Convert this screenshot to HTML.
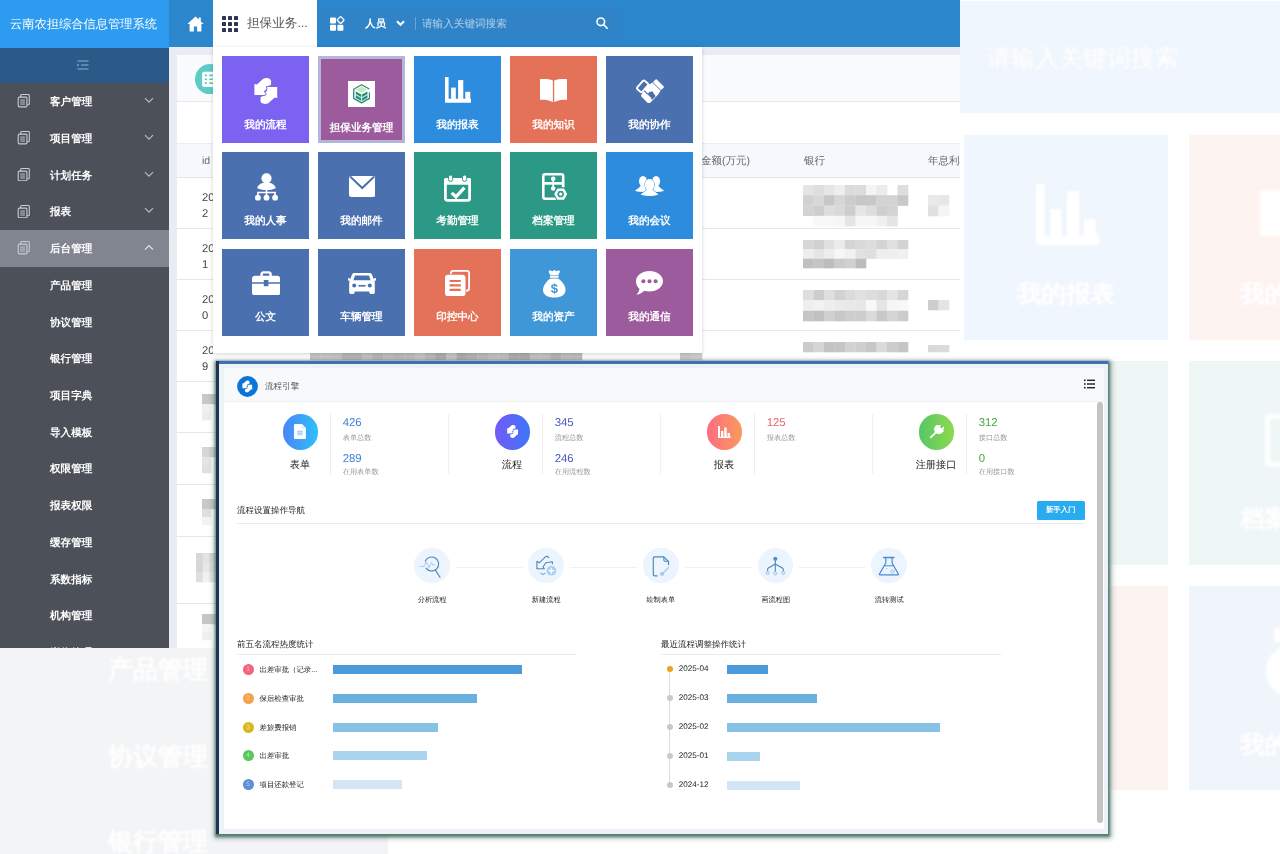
<!DOCTYPE html>
<html lang="zh">
<head>
<meta charset="utf-8">
<title>云南农担综合信息管理系统</title>
<style>
*{box-sizing:border-box;margin:0;padding:0}
html,body{text-rendering:geometricPrecision;width:1280px;height:854px;overflow:hidden;background:#fff;font-family:"Liberation Sans",sans-serif;}
.abs{position:absolute}
/* ---------- blurred background ---------- */
#bg{position:absolute;left:0;top:0;width:1280px;height:854px;overflow:hidden;background:#fff}
#bg .b{position:absolute}
#bg .t{position:absolute;color:#fff;font-weight:bold;white-space:nowrap;filter:blur(1.100px)}
/* ---------- main screenshot ---------- */
#main{will-change:transform;position:absolute;left:0;top:0;width:960px;height:648px;overflow:hidden;background:#eceff4}
#logo{position:absolute;left:0;top:0;width:169px;height:48px;background:#2d9bf0;color:#fff;font-size:12.250px;line-height:49px;padding-left:10px;white-space:nowrap}
#hdr{position:absolute;left:169px;top:0;width:791px;height:47px;background:#2b86cc}
#sub{position:absolute;left:0;top:48px;width:169px;height:35px;background:#2b5a89}
#side{position:absolute;left:0;top:83px;width:169px;height:565px;background:#4c5059}
.mi{position:absolute;left:0;width:169px;height:37px;color:#fff;font-size:10.600px;font-weight:bold;line-height:38.500px;padding-left:50px;white-space:nowrap}
.mi.act{background:#80858f}
.mi svg.ic{position:absolute;left:16.800px;top:11.300px;width:13.700px;height:13.600px}
.mi svg.ch{position:absolute;left:144px;top:14px}
#tab{position:absolute;left:44px;top:0;width:104px;height:48px;background:#fff;color:#555;font-size:12.6px;line-height:47px}
#tab span{position:absolute;left:34px;top:0;white-space:nowrap}
.sb1{position:absolute;left:152px;top:8px;width:32px;height:31px;background:#3083c7;border-radius:3px 0 0 3px}
.sb2{position:absolute;left:185px;top:8px;width:264px;height:31px;background:#3083c7;border-radius:0 3px 3px 0;color:#fff;font-size:10.600px;line-height:32px}
.sb2 .ry{position:absolute;left:11px;top:0;font-weight:bold}
.sb2 i{position:absolute;left:61px;top:9px;width:1px;height:13px;background:rgba(255,255,255,.28)}
.sb2 .ph{position:absolute;left:68px;top:0;color:rgba(255,255,255,.62);white-space:nowrap}
#content{position:absolute;left:169px;top:47px;width:791px;height:601px;background:#e9edf3}
#content .card1{position:absolute;left:8px;top:8px;width:783px;height:47px;background:#fafbfc;border-bottom:1px solid #e6eaf0}
#content .teal{position:absolute;left:25.700px;top:16.700px;width:30.500px;height:30.500px}
#content .card2{position:absolute;left:8px;top:55px;width:783px;height:41px;background:#fff}
#content .thead{position:absolute;left:8px;top:96px;width:783px;height:35px;background:#f5f9fd;border-top:1px solid #e8edf3;border-bottom:1px solid #dfe6ee;color:#666;font-size:10.500px;line-height:35px}
#content .thead span{position:absolute;top:0;white-space:nowrap}
#content .tr{position:absolute;left:8px;width:783px;background:#fff;border-bottom:1px solid #e3e8ee}
#content .idv{position:absolute;left:25px;top:11.500px;font-size:11.200px;line-height:16.800px;color:#444}
#panel{position:absolute;left:213px;top:47px;width:489px;height:306px;background:#fff;box-shadow:0 1px 4px rgba(0,0,0,.18)}
.tile{position:absolute;width:87px;height:87px;color:#fff;font-size:10.6px;font-weight:bold;text-align:center}
.tile span{position:absolute;left:-10px;right:-10px;top:60.800px;line-height:16px;white-space:nowrap}
.tile.sel{border:3px solid #b3b6da}
.tile.sel>*{margin:-3px}
.tile.sel span{top:64px}
#win{will-change:transform;font-weight:500;position:absolute;left:0;top:0;width:1280px;height:854px}
#win .frame{position:absolute;left:216.200px;top:361.200px;width:891.600px;height:472.600px;background:#edf1f8;box-shadow:.5px 1px 2.500px 1.500px rgba(70,110,98,.85),1px 1.500px 5px 3px rgba(70,110,98,.4)}
#win .bt{position:absolute;left:216.200px;top:361.200px;width:891.600px;height:2.800px;background:#416fb5}
#win .bl{position:absolute;left:216.200px;top:361.200px;width:2.600px;height:472.600px;background:#1f3453}
#win .inner{position:absolute;left:224px;top:368px;width:880px;height:461px;background:#fff}
#win .whdr{position:absolute;left:224px;top:368px;width:880px;height:34px;background:#f8f9fb;border-bottom:1px solid #eef0f3}
#win .wt{position:absolute;white-space:nowrap}
#win .circ{position:absolute;width:35.400px;height:35.400px;border-radius:50%}
#win .vd{position:absolute;top:414px;width:1px;height:60px;background:#ececec}
#win .hl{position:absolute;height:1px;background:#e9ebee}
#win .btn{position:absolute;left:1037px;top:501px;width:47.500px;height:18.500px;background:#29abf0;border-radius:1.500px;color:#fff;font-size:7.400px;font-weight:bold;line-height:18.500px;text-align:center}
#win .sc{position:absolute;width:35.600px;height:35.600px;border-radius:50%;background:#ecf5fd}
#win .nb{position:absolute;width:11px;height:11px;border-radius:50%;color:rgba(255,255,255,.55);font-size:6.500px;line-height:11px;text-align:center}
#win .bar{position:absolute;height:9px}
</style>
</head>
<body>
<div id="bg">
  <div class="b" style="left:0;top:640px;width:388px;height:214px;background:#f3f4f6"></div>
  <div class="t" style="left:108px;top:654px;font-size:25px;line-height:32px">产品管理</div>
  <div class="t" style="left:108px;top:741px;font-size:25px;line-height:32px">协议管理</div>
  <div class="t" style="left:108px;top:826px;font-size:25px;line-height:32px">银行管理</div>
  <div class="b" style="left:960px;top:1px;width:320px;height:112px;background:#f0f6fd"></div>
  <div class="t" style="left:987px;top:43px;font-size:24px;line-height:32px;font-weight:normal">请输入关键词搜索</div>
  <div class="b" style="left:964px;top:135px;width:204px;height:205px;background:#f0f6fd"></div>
  <div class="b" style="left:1189px;top:135px;width:100px;height:205px;background:#fdf3f1"></div>
  <div class="b" style="left:964px;top:361px;width:204px;height:204px;background:#eef7f6"></div>
  <div class="b" style="left:1189px;top:361px;width:100px;height:204px;background:#eef7f6"></div>
  <div class="b" style="left:964px;top:586px;width:204px;height:204px;background:#fdf3f1"></div>
  <div class="b" style="left:1189px;top:586px;width:100px;height:204px;background:#f0f5fc"></div>
  <svg class="b" style="left:1036px;top:184px;filter:blur(1.200px)" width="63" height="61" viewBox="0 0 63 61"><path fill="#fff" d="M0 0h8.500v51.500H63V61H0zM14.400 25h11.100v27H14.400zM31 7.300h12.300V52H31zM48 35h11.800v17H48z"/></svg>
  <div class="t" style="left:1017px;top:279px;font-size:24.6px;line-height:32px">我的报表</div>
  <div class="b" style="left:1260px;top:190px;width:30px;height:46px;background:#fff;filter:blur(1.4px)"></div>
  <div class="t" style="left:1240px;top:279px;font-size:24.6px;line-height:32px">我的知识</div>
  <div class="t" style="left:1240px;top:504px;font-size:24.6px;line-height:32px">档案管理</div>
  <div class="t" style="left:1240px;top:730px;font-size:24.6px;line-height:32px">我的资产</div>
  <div class="b" style="left:1265px;top:414px;width:50px;height:53px;border:5px solid #fff;border-radius:5px;filter:blur(1.400px)"></div>
  <div class="b" style="left:1266px;top:644px;width:56px;height:54px;border-radius:50%;background:#fff;filter:blur(1.400px)"></div>
  <div class="b" style="left:1274px;top:628px;width:20px;height:14px;background:#fff;filter:blur(1.400px)"></div>
</div>
<div id="main">
  <div id="logo">云南农担综合信息管理系统</div>
  <div id="hdr">
    <svg style="position:absolute;left:18px;top:16px" width="17" height="16" viewBox="0 0 17 16"><path fill="#fff" d="M8.5 0.6L0.3 8h2.3v7.4h4.3v-5h3.2v5h4.3V8h2.3l-2.9-2.6V1.6h-2.1v1.9z"/></svg>
    <div id="tab"><svg style="position:absolute;left:9px;top:16px" width="16" height="16" viewBox="0 0 16 16" fill="#2d3753"><rect x="0" y="0" width="4" height="4" rx=".6"/><rect x="6" y="0" width="4" height="4" rx=".6"/><rect x="12" y="0" width="4" height="4" rx=".6"/><rect x="0" y="6" width="4" height="4" rx=".6"/><rect x="6" y="6" width="4" height="4" rx=".6"/><rect x="12" y="6" width="4" height="4" rx=".6"/><rect x="0" y="12" width="4" height="4" rx=".6"/><rect x="6" y="12" width="4" height="4" rx=".6"/><rect x="12" y="12" width="4" height="4" rx=".6"/></svg><span>担保业务...</span></div>
    <div class="sb1"><svg style="position:absolute;left:9px;top:8px" width="15" height="15" viewBox="0 0 15 15" fill="#fff"><rect x="0" y="1.4" width="6" height="6" rx="1"/><rect x="0" y="8.8" width="6" height="6" rx="1"/><rect x="7.4" y="8.8" width="6" height="6" rx="1"/><rect x="8" y="1.5" width="5.2" height="5.2" rx="1" transform="rotate(45 10.6 4.1)" fill="none" stroke="#fff" stroke-width="1.3"/></svg></div>
    <div class="sb2">
      <span class="ry">人员</span>
      <svg style="position:absolute;left:42px;top:12px" width="9" height="7" viewBox="0 0 9 7" fill="none" stroke="#fff" stroke-width="2"><path d="M1 1.2l3.5 3.6L8 1.2"/></svg>
      <i></i>
      <span class="ph">请输入关键词搜索</span>
      <svg style="position:absolute;left:242px;top:9px" width="12" height="12" viewBox="0 0 12 12" fill="none" stroke="#fff" stroke-width="1.6"><circle cx="4.8" cy="4.8" r="3.8"/><path d="M7.6 7.6L11.2 11.2" stroke-linecap="round"/></svg>
    </div>
  </div>
  <div id="content">
    <div class="card1"></div>
    <div class="teal"><svg width="30.500" height="30.500" viewBox="0 0 28 28"><circle cx="14" cy="14" r="14" fill="#5ecbc8"/><rect x="6.5" y="7" width="15" height="14" rx="2" fill="#fff"/><path d="M9 10.5h2M13 10.5h6M9 14h2M13 14h6M9 17.5h2M13 17.5h6" stroke="#5ecbc8" stroke-width="1.5"/></svg></div>
    <div class="card2"></div>
    <div class="thead"><span style="left:25px">id</span><span style="left:524px">金额(万元)</span><span style="left:627px">银行</span><span style="left:751px">年息利率</span></div>
    <div class="tr" style="top:131px;height:51px"><span class="idv">20<br>2</span></div>
    <div class="tr" style="top:182px;height:51px"><span class="idv">20<br>1</span></div>
    <div class="tr" style="top:233px;height:51px"><span class="idv">20<br>0</span></div>
    <div class="tr" style="top:284px;height:51px"><span class="idv">20<br>9</span></div>
    <div class="tr" style="top:335px;height:51px"></div>
    <div class="tr" style="top:386px;height:52px"></div>
    <div class="tr" style="top:438px;height:52px"></div>
    <div class="tr" style="top:490px;height:67px"></div>
    <div class="tr" style="top:557px;height:60px"></div>
  </div>
  <div id="sub"><svg style="position:absolute;left:77px;top:12px" width="12" height="10" viewBox="0 0 12 10" fill="none" stroke="#8fb0d2" stroke-width="1.2"><path d="M0.5 1h11M4 5h7.5M0.5 9h11"/><path d="M0.3 3.6l2 1.4-2 1.4z" fill="#8fb0d2" stroke="none"/></svg></div>
  <div id="side">
    <div class="mi" style="top:0.2px"><svg class="ic" width="14" height="15" viewBox="0 0 14 15" fill="none" stroke="#c9ccd2" stroke-width="1.2"><path d="M3.5 3.5V1.6a1 1 0 0 1 1-1H12a1 1 0 0 1 1 1v9.3a1 1 0 0 1-1 1h-1.6"/><rect x="0.8" y="3.4" width="9.6" height="10.8" rx="1.2"/><path d="M3 6.7h5.2M3 8.9h5.2M3 11.1h5.2" stroke-width="1"/></svg>客户管理<svg class="ch" width="10" height="7" viewBox="0 0 10 7" fill="none" stroke="#b9bcc3" stroke-width="1.2"><path d="M1 1.2l4 4 4-4"/></svg></div>
    <div class="mi" style="top:36.9px"><svg class="ic" width="14" height="15" viewBox="0 0 14 15" fill="none" stroke="#c9ccd2" stroke-width="1.2"><path d="M3.5 3.5V1.6a1 1 0 0 1 1-1H12a1 1 0 0 1 1 1v9.3a1 1 0 0 1-1 1h-1.6"/><rect x="0.8" y="3.4" width="9.6" height="10.8" rx="1.2"/><path d="M3 6.7h5.2M3 8.9h5.2M3 11.1h5.2" stroke-width="1"/></svg>项目管理<svg class="ch" width="10" height="7" viewBox="0 0 10 7" fill="none" stroke="#b9bcc3" stroke-width="1.2"><path d="M1 1.2l4 4 4-4"/></svg></div>
    <div class="mi" style="top:73.6px"><svg class="ic" width="14" height="15" viewBox="0 0 14 15" fill="none" stroke="#c9ccd2" stroke-width="1.2"><path d="M3.5 3.5V1.6a1 1 0 0 1 1-1H12a1 1 0 0 1 1 1v9.3a1 1 0 0 1-1 1h-1.6"/><rect x="0.8" y="3.4" width="9.6" height="10.8" rx="1.2"/><path d="M3 6.7h5.2M3 8.9h5.2M3 11.1h5.2" stroke-width="1"/></svg>计划任务<svg class="ch" width="10" height="7" viewBox="0 0 10 7" fill="none" stroke="#b9bcc3" stroke-width="1.2"><path d="M1 1.2l4 4 4-4"/></svg></div>
    <div class="mi" style="top:110.4px"><svg class="ic" width="14" height="15" viewBox="0 0 14 15" fill="none" stroke="#c9ccd2" stroke-width="1.2"><path d="M3.5 3.5V1.6a1 1 0 0 1 1-1H12a1 1 0 0 1 1 1v9.3a1 1 0 0 1-1 1h-1.6"/><rect x="0.8" y="3.4" width="9.6" height="10.8" rx="1.2"/><path d="M3 6.7h5.2M3 8.9h5.2M3 11.1h5.2" stroke-width="1"/></svg>报表<svg class="ch" width="10" height="7" viewBox="0 0 10 7" fill="none" stroke="#b9bcc3" stroke-width="1.2"><path d="M1 1.2l4 4 4-4"/></svg></div>
    <div class="mi act" style="top:147.1px"><svg class="ic" width="14" height="15" viewBox="0 0 14 15" fill="none" stroke="#c9ccd2" stroke-width="1.2"><path d="M3.5 3.5V1.6a1 1 0 0 1 1-1H12a1 1 0 0 1 1 1v9.3a1 1 0 0 1-1 1h-1.6"/><rect x="0.8" y="3.4" width="9.6" height="10.8" rx="1.2"/><path d="M3 6.7h5.2M3 8.9h5.2M3 11.1h5.2" stroke-width="1"/></svg>后台管理<svg class="ch" width="10" height="7" viewBox="0 0 10 7" fill="none" stroke="#e4e6ea" stroke-width="1.2"><path d="M1 5.6l4-4 4 4"/></svg></div>
    <div class="mi" style="top:183.8px">产品管理</div>
    <div class="mi" style="top:220.5px">协议管理</div>
    <div class="mi" style="top:257.2px">银行管理</div>
    <div class="mi" style="top:294.0px">项目字典</div>
    <div class="mi" style="top:330.7px">导入模板</div>
    <div class="mi" style="top:367.4px">权限管理</div>
    <div class="mi" style="top:404.1px">报表权限</div>
    <div class="mi" style="top:440.8px">缓存管理</div>
    <div class="mi" style="top:477.6px">系数指标</div>
    <div class="mi" style="top:514.3px">机构管理</div>
    <div class="mi" style="top:551.0px">岗位管理</div>
  </div>
  <!--MS--><svg id="mos" style="position:absolute;left:0;top:0;filter:blur(.5px)" width="960" height="648" viewBox="0 0 960 648"><rect x="803.0" y="185.0" width="10.8" height="10.6" fill="#e4e4e4"/><rect x="813.5" y="185.0" width="10.8" height="10.6" fill="#dedede"/><rect x="824.0" y="185.0" width="10.8" height="10.6" fill="#e6e6e6"/><rect x="834.5" y="185.0" width="10.8" height="10.6" fill="#eeeeee"/><rect x="845.0" y="185.0" width="10.8" height="10.6" fill="#dbdbdb"/><rect x="855.5" y="185.0" width="10.8" height="10.6" fill="#dcdcdc"/><rect x="866.0" y="185.0" width="10.8" height="10.6" fill="#f4f4f4"/><rect x="876.5" y="185.0" width="10.8" height="10.6" fill="#ebebeb"/><rect x="897.5" y="185.0" width="10.8" height="10.6" fill="#dddddd"/><rect x="803.0" y="195.2" width="10.8" height="10.6" fill="#d1d1d1"/><rect x="813.5" y="195.2" width="10.8" height="10.6" fill="#d8d8d8"/><rect x="824.0" y="195.2" width="10.8" height="10.6" fill="#c7c7c7"/><rect x="834.5" y="195.2" width="10.8" height="10.6" fill="#d6d6d6"/><rect x="845.0" y="195.2" width="10.8" height="10.6" fill="#cccccc"/><rect x="855.5" y="195.2" width="10.8" height="10.6" fill="#c7c7c7"/><rect x="866.0" y="195.2" width="10.8" height="10.6" fill="#c8c8c8"/><rect x="876.5" y="195.2" width="10.8" height="10.6" fill="#d3d3d3"/><rect x="887.0" y="195.2" width="10.8" height="10.6" fill="#d3d3d3"/><rect x="897.5" y="195.2" width="10.8" height="10.6" fill="#c8c8c8"/><rect x="803.0" y="205.5" width="10.8" height="10.6" fill="#d3d3d3"/><rect x="813.5" y="205.5" width="10.8" height="10.6" fill="#cecece"/><rect x="824.0" y="205.5" width="10.8" height="10.6" fill="#dddddd"/><rect x="834.5" y="205.5" width="10.8" height="10.6" fill="#d9d9d9"/><rect x="845.0" y="205.5" width="10.8" height="10.6" fill="#cdcdcd"/><rect x="855.5" y="205.5" width="10.8" height="10.6" fill="#e6e6e6"/><rect x="866.0" y="205.5" width="10.8" height="10.6" fill="#dedede"/><rect x="876.5" y="205.5" width="10.8" height="10.6" fill="#cfcfcf"/><rect x="887.0" y="205.5" width="10.8" height="10.6" fill="#d3d3d3"/><rect x="813.5" y="215.8" width="10.8" height="10.6" fill="#f8f8f8"/><rect x="824.0" y="215.8" width="10.8" height="10.6" fill="#f8f8f8"/><rect x="834.5" y="215.8" width="10.8" height="10.6" fill="#f6f6f6"/><rect x="845.0" y="215.8" width="10.8" height="10.6" fill="#e5e5e5"/><rect x="855.5" y="215.8" width="10.8" height="10.6" fill="#f6f6f6"/><rect x="866.0" y="215.8" width="10.8" height="10.6" fill="#f6f6f6"/><rect x="876.5" y="215.8" width="10.8" height="10.6" fill="#f0f0f0"/><rect x="887.0" y="215.8" width="10.8" height="10.6" fill="#e5e5e5"/><rect x="803.0" y="240.0" width="10.8" height="9.6" fill="#d7d7d7"/><rect x="813.5" y="240.0" width="10.8" height="9.6" fill="#d1d1d1"/><rect x="824.0" y="240.0" width="10.8" height="9.6" fill="#e1e1e1"/><rect x="834.5" y="240.0" width="10.8" height="9.6" fill="#ebebeb"/><rect x="845.0" y="240.0" width="10.8" height="9.6" fill="#d4d4d4"/><rect x="855.5" y="240.0" width="10.8" height="9.6" fill="#d9d9d9"/><rect x="866.0" y="240.0" width="10.8" height="9.6" fill="#dddddd"/><rect x="876.5" y="240.0" width="10.8" height="9.6" fill="#d4d4d4"/><rect x="887.0" y="240.0" width="10.8" height="9.6" fill="#e1e1e1"/><rect x="897.5" y="240.0" width="10.8" height="9.6" fill="#d3d3d3"/><rect x="803.0" y="249.3" width="10.8" height="9.6" fill="#eeeeee"/><rect x="813.5" y="249.3" width="10.8" height="9.6" fill="#e5e5e5"/><rect x="824.0" y="249.3" width="10.8" height="9.6" fill="#ededed"/><rect x="834.5" y="249.3" width="10.8" height="9.6" fill="#f6f6f6"/><rect x="845.0" y="249.3" width="10.8" height="9.6" fill="#f1f1f1"/><rect x="855.5" y="249.3" width="10.8" height="9.6" fill="#e1e1e1"/><rect x="866.0" y="249.3" width="10.8" height="9.6" fill="#dfdfdf"/><rect x="876.5" y="249.3" width="10.8" height="9.6" fill="#eeeeee"/><rect x="887.0" y="249.3" width="10.8" height="9.6" fill="#eeeeee"/><rect x="897.5" y="249.3" width="10.8" height="9.6" fill="#f0f0f0"/><rect x="803.0" y="258.7" width="10.8" height="9.6" fill="#c0c0c0"/><rect x="813.5" y="258.7" width="10.8" height="9.6" fill="#c5c5c5"/><rect x="824.0" y="258.7" width="10.8" height="9.6" fill="#bdbdbd"/><rect x="834.5" y="258.7" width="10.8" height="9.6" fill="#cbcbcb"/><rect x="845.0" y="258.7" width="10.8" height="9.6" fill="#d0d0d0"/><rect x="855.5" y="258.7" width="10.8" height="9.6" fill="#bcbcbc"/><rect x="803.0" y="290.0" width="10.8" height="10.6" fill="#dedede"/><rect x="813.5" y="290.0" width="10.8" height="10.6" fill="#cdcdcd"/><rect x="824.0" y="290.0" width="10.8" height="10.6" fill="#dfdfdf"/><rect x="834.5" y="290.0" width="10.8" height="10.6" fill="#d2d2d2"/><rect x="845.0" y="290.0" width="10.8" height="10.6" fill="#dbdbdb"/><rect x="855.5" y="290.0" width="10.8" height="10.6" fill="#e1e1e1"/><rect x="866.0" y="290.0" width="10.8" height="10.6" fill="#dddddd"/><rect x="876.5" y="290.0" width="10.8" height="10.6" fill="#d9d9d9"/><rect x="887.0" y="290.0" width="10.8" height="10.6" fill="#e4e4e4"/><rect x="897.5" y="290.0" width="10.8" height="10.6" fill="#d6d6d6"/><rect x="803.0" y="300.3" width="10.8" height="10.6" fill="#eeeeee"/><rect x="813.5" y="300.3" width="10.8" height="10.6" fill="#f2f2f2"/><rect x="824.0" y="300.3" width="10.8" height="10.6" fill="#eeeeee"/><rect x="834.5" y="300.3" width="10.8" height="10.6" fill="#ebebeb"/><rect x="845.0" y="300.3" width="10.8" height="10.6" fill="#e9e9e9"/><rect x="855.5" y="300.3" width="10.8" height="10.6" fill="#e7e7e7"/><rect x="866.0" y="300.3" width="10.8" height="10.6" fill="#f9f9f9"/><rect x="876.5" y="300.3" width="10.8" height="10.6" fill="#e5e5e5"/><rect x="887.0" y="300.3" width="10.8" height="10.6" fill="#f6f6f6"/><rect x="897.5" y="300.3" width="10.8" height="10.6" fill="#f8f8f8"/><rect x="803.0" y="310.7" width="10.8" height="10.6" fill="#c5c5c5"/><rect x="813.5" y="310.7" width="10.8" height="10.6" fill="#c0c0c0"/><rect x="824.0" y="310.7" width="10.8" height="10.6" fill="#d0d0d0"/><rect x="834.5" y="310.7" width="10.8" height="10.6" fill="#c7c7c7"/><rect x="845.0" y="310.7" width="10.8" height="10.6" fill="#cecece"/><rect x="855.5" y="310.7" width="10.8" height="10.6" fill="#cdcdcd"/><rect x="866.0" y="310.7" width="10.8" height="10.6" fill="#dadada"/><rect x="876.5" y="310.7" width="10.8" height="10.6" fill="#c8c8c8"/><rect x="887.0" y="310.7" width="10.8" height="10.6" fill="#d5d5d5"/><rect x="897.5" y="310.7" width="10.8" height="10.6" fill="#cccccc"/><rect x="803.0" y="342.0" width="10.8" height="10.3" fill="#cbcbcb"/><rect x="813.5" y="342.0" width="10.8" height="10.3" fill="#d5d5d5"/><rect x="824.0" y="342.0" width="10.8" height="10.3" fill="#c4c4c4"/><rect x="834.5" y="342.0" width="10.8" height="10.3" fill="#c5c5c5"/><rect x="845.0" y="342.0" width="10.8" height="10.3" fill="#d2d2d2"/><rect x="855.5" y="342.0" width="10.8" height="10.3" fill="#cfcfcf"/><rect x="866.0" y="342.0" width="10.8" height="10.3" fill="#c7c7c7"/><rect x="876.5" y="342.0" width="10.8" height="10.3" fill="#dadada"/><rect x="887.0" y="342.0" width="10.8" height="10.3" fill="#cccccc"/><rect x="897.5" y="342.0" width="10.8" height="10.3" fill="#c6c6c6"/><rect x="928.0" y="195.0" width="10.8" height="10.8" fill="#e9e9e9"/><rect x="938.5" y="195.0" width="10.8" height="10.8" fill="#e7e7e7"/><rect x="928.0" y="205.5" width="10.8" height="10.8" fill="#e1e1e1"/><rect x="938.5" y="205.5" width="10.8" height="10.8" fill="#f5f5f5"/><rect x="928.0" y="300.0" width="10.8" height="10.3" fill="#cecece"/><rect x="938.5" y="300.0" width="10.8" height="10.3" fill="#e4e4e4"/><rect x="928.0" y="345.0" width="10.8" height="7.3" fill="#d9d9d9"/><rect x="938.5" y="345.0" width="10.8" height="7.3" fill="#dadada"/><rect x="310.0" y="352.0" width="10.8" height="8.3" fill="#c5c5c5"/><rect x="320.5" y="352.0" width="10.8" height="8.3" fill="#c8c8c8"/><rect x="330.9" y="352.0" width="10.8" height="8.3" fill="#c6c6c6"/><rect x="341.4" y="352.0" width="10.8" height="8.3" fill="#b6b6b6"/><rect x="351.8" y="352.0" width="10.8" height="8.3" fill="#b6b6b6"/><rect x="362.3" y="352.0" width="10.8" height="8.3" fill="#c2c2c2"/><rect x="372.8" y="352.0" width="10.8" height="8.3" fill="#b7b7b7"/><rect x="383.2" y="352.0" width="10.8" height="8.3" fill="#bfbfbf"/><rect x="393.7" y="352.0" width="10.8" height="8.3" fill="#bbbbbb"/><rect x="404.2" y="352.0" width="10.8" height="8.3" fill="#bebebe"/><rect x="414.6" y="352.0" width="10.8" height="8.3" fill="#c5c5c5"/><rect x="425.1" y="352.0" width="10.8" height="8.3" fill="#bababa"/><rect x="435.5" y="352.0" width="10.8" height="8.3" fill="#aeaeae"/><rect x="446.0" y="352.0" width="10.8" height="8.3" fill="#c6c6c6"/><rect x="456.5" y="352.0" width="10.8" height="8.3" fill="#aeaeae"/><rect x="466.9" y="352.0" width="10.8" height="8.3" fill="#b4b4b4"/><rect x="477.4" y="352.0" width="10.8" height="8.3" fill="#bbbbbb"/><rect x="487.8" y="352.0" width="10.8" height="8.3" fill="#c2c2c2"/><rect x="498.3" y="352.0" width="10.8" height="8.3" fill="#c1c1c1"/><rect x="508.8" y="352.0" width="10.8" height="8.3" fill="#aeaeae"/><rect x="519.2" y="352.0" width="10.8" height="8.3" fill="#adadad"/><rect x="529.7" y="352.0" width="10.8" height="8.3" fill="#c3c3c3"/><rect x="540.2" y="352.0" width="10.8" height="8.3" fill="#c2c2c2"/><rect x="550.6" y="352.0" width="10.8" height="8.3" fill="#b5b5b5"/><rect x="561.1" y="352.0" width="10.8" height="8.3" fill="#c0c0c0"/><rect x="571.5" y="352.0" width="10.8" height="8.3" fill="#bebebe"/><rect x="680.0" y="352.0" width="11.3" height="8.3" fill="#cbcbcb"/><rect x="691.0" y="352.0" width="11.3" height="8.3" fill="#d0d0d0"/><rect x="202.0" y="394.0" width="7.3" height="10.3" fill="#c8c8c8"/><rect x="209.0" y="394.0" width="7.3" height="10.3" fill="#c3c3c3"/><rect x="202.0" y="404.0" width="9.3" height="8.3" fill="#f0f0f0"/><rect x="202.0" y="412.0" width="9.3" height="8.3" fill="#ececec"/><rect x="202.0" y="447.0" width="7.3" height="10.3" fill="#d6d6d6"/><rect x="209.0" y="447.0" width="7.3" height="10.3" fill="#cfcfcf"/><rect x="202.0" y="457.0" width="9.3" height="8.3" fill="#e5e5e5"/><rect x="202.0" y="465.0" width="9.3" height="8.3" fill="#e0e0e0"/><rect x="202.0" y="499.0" width="7.3" height="10.3" fill="#c8c8c8"/><rect x="209.0" y="499.0" width="7.3" height="10.3" fill="#c5c5c5"/><rect x="202.0" y="509.0" width="9.3" height="8.3" fill="#dfdfdf"/><rect x="202.0" y="517.0" width="9.3" height="8.3" fill="#f3f3f3"/><rect x="196.0" y="553.0" width="7.0" height="10.0" fill="#d7d7d7"/><rect x="202.7" y="553.0" width="7.0" height="10.0" fill="#e3e3e3"/><rect x="209.3" y="553.0" width="7.0" height="10.0" fill="#d5d5d5"/><rect x="196.0" y="562.7" width="7.0" height="10.0" fill="#d6d6d6"/><rect x="202.7" y="562.7" width="7.0" height="10.0" fill="#e8e8e8"/><rect x="209.3" y="562.7" width="7.0" height="10.0" fill="#d9d9d9"/><rect x="196.0" y="572.3" width="7.0" height="10.0" fill="#dedede"/><rect x="202.7" y="572.3" width="7.0" height="10.0" fill="#f1f1f1"/><rect x="209.3" y="572.3" width="7.0" height="10.0" fill="#e1e1e1"/><rect x="202.0" y="614.0" width="7.3" height="10.3" fill="#c6c6c6"/><rect x="209.0" y="614.0" width="7.3" height="10.3" fill="#c6c6c6"/><rect x="202.0" y="624.0" width="9.3" height="8.3" fill="#f5f5f5"/><rect x="202.0" y="632.0" width="9.3" height="8.3" fill="#efefef"/></svg><!--ME-->
  <!--PS--><div id="panel">
    <div class="tile" style="left:9px;top:9.200000000000003px;background:#7b62f0"><svg style="position:absolute;left:31.5px;top:21.7px" width="24" height="26" viewBox="0 0 24 26" fill="#fff"><path id="fl" d="M12.600 0C15.600 0 17.500 1.800 17.100 4.200L16.900 7.400 12.200 8.800 13.100 11 10.300 13.400 12.100 15.600 11.300 16.900H0.400V5.900L2.900 6.600 9 .9C10 .2 11.200 0 12.600 0z"/><use href="#fl" transform="rotate(180 11.800 13)"/><path d="M17.300 7.600l-5 1.300.9 2.100-2.900 2.500 1.800 2.100-.7 1.400-5 1.400" fill="none" stroke="#7b62f0" stroke-width="1"/></svg><span>我的流程</span></div>
    <div class="tile sel" style="left:105px;top:9.200000000000003px;background:#9c5b9c"><div style="position:absolute;left:30.200px;top:24.500px;width:27px;height:26.500px;background:#fff"></div><svg style="position:absolute;left:34.6px;top:27.8px" width="17.4" height="19.6" viewBox="0 0 17.4 19.6" fill="#fff"><path d="M8.600 2.400l5.600 3.300-5.600 3.300L3 5.700z" fill="#c8e9b8"/><path d="M2.600 7.600l6 3.400 6-3.400v7.200l-6 3.400-6-3.400z" fill="#b9efe8"/><path d="M2.800 7.400l5.800 3.300 5.800-3.300v2.500l-5.800 3.300-5.800-3.300zM2.800 11.300l5.800 3.300 5.800-3.300v2.500l-5.800 3.300-5.800-3.300z" fill="#2b8c78"/><path d="M8.600 10.600v8" stroke="#e8fffb" stroke-width=".8"/><path d="M15.800 4.800L8.600.7.700 5.200v9.200l7.900 4.500 7.900-4.500V9" fill="none" stroke="#2b8c78" stroke-width="1.300" stroke-linejoin="round" stroke-linecap="round"/></svg><span>担保业务管理</span></div>
    <div class="tile" style="left:201px;top:9.200000000000003px;background:#2d8cdd"><svg style="position:absolute;left:30.7px;top:21px" width="26.7" height="25.8" viewBox="0 0 26.7 25.8" fill="#fff"><path d="M0 0h3.600v21.800h23.100v4H0z"/><rect x="6.100" y="10.600" width="4.700" height="11.400"/><rect x="13.100" y="3.100" width="5.200" height="18.900"/><rect x="20.300" y="14.800" width="5" height="7.200"/></svg><span>我的报表</span></div>
    <div class="tile" style="left:297px;top:9.200000000000003px;background:#e47258"><svg style="position:absolute;left:30px;top:22.9px" width="27.1" height="23.2" viewBox="0 0 27.1 23.2" fill="#fff"><path d="M0 .3C4-.4 9-.2 12.900 1.400v21.800C9 21 4 20.600 0 20.900z"/><path d="M27.100 .3c-4-.7-9-.5-12.900 1.100v21.800c3.900-2.200 8.900-2.600 12.900-2.300z"/></svg><span>我的知识</span></div>
    <div class="tile" style="left:393px;top:9.200000000000003px;background:#4b70b0"><svg style="position:absolute;left:30px;top:22.9px" width="28.2" height="24" viewBox="0 0 28.2 24" fill="#fff"><rect x="-3.350" y="-5.550" width="6.700" height="11.100" rx="1.500" transform="translate(6.600 7.300) rotate(41)" fill="none" stroke="#fff" stroke-width="1.900"/><rect x="-5.700" y="-2.300" width="11.400" height="4.600" rx=".9" transform="translate(22.600 5.600) rotate(45)"/><path d="M16.400 3.600l8.200 8.200-2.400 3.600-7.400 7.800c-1.200 1.100-2.600 1.100-3.600.2L5.400 17.600c-.6-.8-.4-1.800.6-2.800l2.600-3.800 4.600-5.600z"/><path d="M12.900 13.300l3.500-1.100 3.300 5.100-3.800 3.800-.9-2.400-3.300-3.200z" fill="#4b70b0"/><path d="M8 11.600l3.800 3.400" stroke="#4b70b0" stroke-width="1.100"/></svg><span>我的协作</span></div>
    <div class="tile" style="left:9px;top:105.30000000000001px;background:#4b70b0"><svg style="position:absolute;left:32.5px;top:20.3px" width="23" height="28" viewBox="0 0 23 28" fill="#fff"><circle cx="11.500" cy="5.300" r="5.100"/><path d="M2.200 15.300C3.200 11.300 7 9.600 11.500 9.600s8.300 1.700 9.300 5.700c-3 1.300-6 1.800-9.300 1.800s-6.300-.5-9.300-1.800z"/><path d="M11.500 16v7M2.900 23.500v-4h17.200v4" fill="none" stroke="#fff" stroke-width="1.600"/><circle cx="2.900" cy="24.700" r="2.900"/><circle cx="11.500" cy="24.700" r="2.900"/><circle cx="20.100" cy="24.700" r="2.900"/></svg><span>我的人事</span></div>
    <div class="tile" style="left:105px;top:105.30000000000001px;background:#4b70b0"><svg style="position:absolute;left:30.8px;top:24px" width="26.4" height="21" viewBox="0 0 26.4 21" fill="#fff"><rect x="0" y="0" width="26.400" height="21" rx="2.200"/><path d="M1.200 .6l12 11.400L25.200 .6" fill="none" stroke="#4b70b0" stroke-width="2"/></svg><span>我的邮件</span></div>
    <div class="tile" style="left:201px;top:105.30000000000001px;background:#2c9986"><svg style="position:absolute;left:30.2px;top:22.8px" width="27" height="26.7" viewBox="0 0 27 26.7" fill="#fff"><rect x="1.400" y="4.300" width="24.200" height="21" rx="1.800" fill="none" stroke="#fff" stroke-width="2.800"/><path d="M0 4.700c0-1.100.700-1.800 1.800-1.800h23.400c1.100 0 1.800.700 1.800 1.800v5H0z"/><rect x="4.500" y="0" width="4.200" height="6.400" rx="2.100" stroke="#2c9986" stroke-width="1"/><rect x="18.500" y="0" width="4.200" height="6.400" rx="2.100" stroke="#2c9986" stroke-width="1"/><path d="M7.700 17.900l4.300 4 8.400-9.200" fill="none" stroke="#fff" stroke-width="3.300"/></svg><span>考勤管理</span></div>
    <div class="tile" style="left:297px;top:105.30000000000001px;background:#2c9986"><svg style="position:absolute;left:32.1px;top:20.7px" width="25.6" height="27.6" viewBox="0 0 25.6 27.6" fill="#fff"><rect x="1.300" y="1.300" width="19.900" height="24.400" rx="2" fill="none" stroke="#fff" stroke-width="2.600"/><path d="M1.300 10.400h19.900" stroke="#fff" stroke-width="2.600"/><path d="M11.200 5.600v10" stroke="#fff" stroke-width="1.700"/><circle cx="11.200" cy="5.700" r="2.300"/><circle cx="11.200" cy="15.500" r="2.300"/><polygon points="26.50,21.10 22.60,27.85 14.80,27.85 10.90,21.10 14.80,14.35 22.60,14.35" fill="#2c9986"/><polygon points="23.80,21.10 21.25,25.52 16.15,25.52 13.60,21.10 16.15,16.68 21.25,16.68" fill="none" stroke="#fff" stroke-width="2.500" stroke-linejoin="round"/><circle cx="18.700" cy="21.100" r="1.700"/></svg><span>档案管理</span></div>
    <div class="tile" style="left:393px;top:105.30000000000001px;background:#2d8cdd"><svg style="position:absolute;left:29px;top:23.5px" width="29.2" height="21" viewBox="0 0 29.2 21" fill="#fff"><g fill="#fff"><path d="M0.00 15.00 C0.00 13.90 4.40 12.40 6.00 8.90 L10.00 8.90 C11.60 12.40 16.00 13.90 16.00 15.00 Q8.00 17.20 0.00 15.00 Z"/><ellipse cx="8.00" cy="5.20" rx="4.00" ry="5.20"/><path d="M13.10 15.00 C13.10 13.90 17.50 12.40 19.10 8.90 L23.10 8.90 C24.70 12.40 29.10 13.90 29.10 15.00 Q21.10 17.20 13.10 15.00 Z"/><ellipse cx="21.10" cy="5.20" rx="4.00" ry="5.20"/></g><g fill="#fff" stroke="#2d8cdd" stroke-width="1.100" paint-order="stroke"><path d="M6.00 18.80 C6.00 17.50 10.73 16.00 12.35 12.50 L16.85 12.50 C18.47 16.00 23.20 17.50 23.20 18.80 Q14.60 21.00 6.00 18.80 Z"/><ellipse cx="14.60" cy="8.80" rx="4.50" ry="5.70"/></g><g fill="#fff"><path d="M6.00 18.80 C6.00 17.50 10.73 16.00 12.35 12.50 L16.85 12.50 C18.47 16.00 23.20 17.50 23.20 18.80 Q14.60 21.00 6.00 18.80 Z"/><ellipse cx="14.60" cy="8.80" rx="4.50" ry="5.70"/></g></svg><span>我的会议</span></div>
    <div class="tile" style="left:9px;top:201.7px;background:#4b70b0"><svg style="position:absolute;left:29.6px;top:22px" width="28.2" height="24.6" viewBox="0 0 28.2 24.6" fill="#fff"><path d="M8.400 5.600V3.200C8.400 1.400 9.600.3 11.400.3h5.400c1.800 0 3 1.100 3 2.900v2.400h-2.400V3.400c0-.5-.3-.8-.8-.8h-5c-.5 0-.8.300-.8.800v2.200z"/><path d="M3 4.800h22.200c1.800 0 3 1.200 3 3v3.400H16.400V9h-4.600v2.200H0V7.800c0-1.800 1.200-3 3-3z"/><path d="M0 12.800h11.800v2.400h4.600v-2.400h11.800v8.800c0 1.800-1.200 3-3 3H3c-1.800 0-3-1.200-3-3z"/></svg><span>公文</span></div>
    <div class="tile" style="left:105px;top:201.7px;background:#4b70b0"><svg style="position:absolute;left:29.8px;top:24px" width="28" height="21" viewBox="0 0 28 21" fill="#fff"><path d="M6.200 0h15.600c1 0 1.800.6 2.200 1.600L25.600 6l1.400-.9c.6-.3 1 .1 1 .7v.9c0 .6-.4 1-1 1h-.7l.5 1.700V19.600c0 .8-.6 1.400-1.400 1.400h-2.600c-.8 0-1.400-.6-1.400-1.400v-1.200H6.600v1.200c0 .8-.6 1.400-1.400 1.400H2.600c-.8 0-1.400-.6-1.400-1.400V9.400l.5-1.700H1c-.6 0-1-.4-1-1v-.9c0-.6.400-1 1-.7l1.400.9L4 1.600C4.400.6 5.200 0 6.200 0z"/><path d="M5.400 7.200L7 2.600h14l1.600 4.600z" fill="#4b70b0"/><circle cx="6.200" cy="12.600" r="2" fill="#4b70b0"/><circle cx="21.800" cy="12.600" r="2" fill="#4b70b0"/><rect x="10.400" y="12" width="7.200" height="1.600" fill="#4b70b0"/></svg><span>车辆管理</span></div>
    <div class="tile" style="left:201px;top:201.7px;background:#e47258"><svg style="position:absolute;left:31px;top:21px" width="25" height="26.3" viewBox="0 0 25 26.3" fill="#fff"><path d="M5 4V3C5 1.200 6.200 0 8 0h14c1.800 0 3 1.200 3 3v15.500c0 1.800-1.200 3-3 3h-1v-1.800h.8c.8 0 1.400-.6 1.400-1.400V3.200c0-.8-.6-1.400-1.400-1.400H8.200c-.8 0-1.400.6-1.400 1.400V4z"/><path d="M3 4.700h14.500c1.800 0 3 1.200 3 3v15.600c0 1.800-1.200 3-3 3H3c-1.800 0-3-1.200-3-3V7.700c0-1.800 1.200-3 3-3z"/><path d="M4.600 11h11.200M4.600 15.400h11.200M4.600 19.800h11.200" stroke="#e47258" stroke-width="2.200"/></svg><span>印控中心</span></div>
    <div class="tile" style="left:297px;top:201.7px;background:#3f97d7"><svg style="position:absolute;left:33px;top:21.5px" width="22.5" height="27.5" viewBox="0 0 22.5 27.5" fill="#fff"><path d="M6 .8c1.200-.9 2.400.4 3.300.4C10.200 1.200 10.600 0 11.300 0s1.100 1.200 2 1.200S15.400-.1 16.600.8c.9.700-.8 3-1.500 4.500h-7.600C6.800 3.800 5.100 1.500 6 .8z"/><rect x="6.800" y="5.800" width="9" height="2" rx="1"/><path d="M7.600 8.400h7.400c4.200 2.800 7.500 7 7.500 11.600 0 5-4.600 7.500-11.200 7.500S0 25 0 20C0 15.400 3.400 11.200 7.600 8.400z"/><text x="11.300" y="23" font-family="Liberation Sans,sans-serif" font-size="13" text-anchor="middle" fill="#3f97d7">$</text></svg><span>我的资产</span></div>
    <div class="tile" style="left:393px;top:201.7px;background:#9c5b9c"><svg style="position:absolute;left:30px;top:22px" width="27" height="24" viewBox="0 0 27 24" fill="#fff"><path d="M13.500 0C21 0 27 4.500 27 10.200S21 20.400 13.500 20.400c-1.800 0-3.500-.3-5.100-.7C6.400 21.600 3.800 23.200.6 23.800c1.500-1.800 2.600-3.800 2.800-6C1.300 15.900 0 13.200 0 10.200 0 4.500 6 0 13.500 0z"/><circle cx="7.400" cy="10.200" r="2" fill="#9c5b9c"/><circle cx="13.500" cy="10.200" r="2" fill="#9c5b9c"/><circle cx="19.600" cy="10.200" r="2" fill="#9c5b9c"/></svg><span>我的通信</span></div>
  </div><!--PE-->
</div>
<!--WS--><div id="win">
  <div class="frame"></div><div class="bt"></div><div class="bl"></div>
  <div class="inner"></div>
  <div class="whdr"></div>
  <svg style="position:absolute;left:237px;top:375.800px" width="21" height="21" viewBox="0 0 21 21"><circle cx="10.500" cy="10.500" r="10.400" fill="#0b75d6"/><g transform="translate(5.200 4.500) scale(.430 .455)" fill="#fff"><path id="fl3" d="M12.600 0C15.600 0 17.500 1.800 17.100 4.200L16.900 7.400 12.200 8.800 13.100 11 10.300 13.400 12.100 15.600 11.300 16.900H0.400V5.900L2.900 6.600 9 .9C10 .2 11.200 0 12.600 0z"/><use href="#fl3" transform="rotate(180 11.800 13)"/><path d="M17.300 7.600l-5 1.300.9 2.100-2.900 2.500 1.800 2.100-.7 1.400-5 1.400" fill="none" stroke="#0b75d6" stroke-width="1.400"/></g></svg>
  <div class="wt" style="left:265px;top:379px;font-size:8.600px;line-height:14px;color:#555">流程引擎</div>
  <svg style="position:absolute;left:1084px;top:379px" width="11" height="10" viewBox="0 0 11 10" fill="#222"><rect x="0" y="0.500" width="1.600" height="1.600"/><rect x="3" y="0.600" width="8" height="1.400"/><rect x="0" y="4.200" width="1.600" height="1.600"/><rect x="3" y="4.300" width="8" height="1.400"/><rect x="0" y="7.900" width="1.600" height="1.600"/><rect x="3" y="8" width="8" height="1.400"/></svg>
  <div style="position:absolute;left:1097px;top:402px;width:5.500px;height:421px;border-radius:3px;background:#c3c3c3"></div>
  <div class="circ" style="left:282.7px;top:414.200px;background:linear-gradient(90deg,#4b84f7,#2fc0fa)"><svg style="position:absolute;left:11.75px;top:10.1px" width="11.9" height="15.2" viewBox="0 0 11.9 15.2"><path fill="#fff" d="M1.400 0h6.600l3.900 3.900v10c0 .8-.6 1.300-1.400 1.300H1.400C.6 15.200 0 14.700 0 13.900V1.400C0 .6.600 0 1.400 0z"/><path fill="#58a8f8" d="M8.200 2.600l1.400 1.400H9c-.5 0-.8-.3-.8-.8z"/><rect x="3.300" y="6.300" width="5.300" height="5.200" fill="#cfe6fd"/><path d="M3.300 7.700h5.300M3.300 9.800h5.300" stroke="#8cc4fa" stroke-width=".8"/></svg></div>
  <div class="wt" style="left:250px;top:458.700px;width:100px;text-align:center;font-size:10.200px;line-height:14px;color:#222">表单</div>
  <div class="vd" style="left:329.5px"></div>
  <div class="wt" style="left:342.7px;top:416.4px;font-size:11.400px;line-height:14px;color:#3c83d8">426</div>
  <div class="wt" style="left:342.7px;top:432.5px;font-size:7.200px;line-height:10px;color:#999">表单总数</div>
  <div class="wt" style="left:342.7px;top:451.7px;font-size:11.400px;line-height:14px;color:#3c83d8">289</div>
  <div class="wt" style="left:342.7px;top:467px;font-size:7.200px;line-height:10px;color:#999">在用表单数</div>
  <div class="circ" style="left:494.7px;top:414.200px;background:linear-gradient(90deg,#735af5,#3e76fa)"><svg style="position:absolute;left:11.85px;top:10.85px" width="11.7" height="12.9" viewBox="0 0 11.7 12.9"><g transform="scale(.496)" fill="#fff"><path id="fl2" d="M12.600 0C15.600 0 17.500 1.800 17.100 4.200L16.900 7.400 12.200 8.800 13.100 11 10.300 13.400 12.100 15.600 11.300 16.900H0.400V5.900L2.900 6.600 9 .9C10 .2 11.200 0 12.600 0z"/><use href="#fl2" transform="rotate(180 11.800 13)"/><path d="M17.300 7.600l-5 1.300.9 2.100-2.900 2.500 1.800 2.100-.7 1.400-5 1.400" fill="none" stroke="#5868f7" stroke-width="1.300"/></g></svg></div>
  <div class="wt" style="left:462px;top:458.700px;width:100px;text-align:center;font-size:10.200px;line-height:14px;color:#222">流程</div>
  <div class="vd" style="left:541.5px"></div>
  <div class="vd" style="left:448px;background:#f0f1f3"></div>
  <div class="wt" style="left:554.7px;top:416.4px;font-size:11.400px;line-height:14px;color:#4c57c8">345</div>
  <div class="wt" style="left:554.7px;top:432.5px;font-size:7.200px;line-height:10px;color:#999">流程总数</div>
  <div class="wt" style="left:554.7px;top:451.7px;font-size:11.400px;line-height:14px;color:#4c57c8">246</div>
  <div class="wt" style="left:554.7px;top:467px;font-size:7.200px;line-height:10px;color:#999">在用流程数</div>
  <div class="circ" style="left:706.7px;top:414.200px;background:linear-gradient(90deg,#ff6c82,#f89a5c)"><svg style="position:absolute;left:11.35px;top:11.399999999999999px" width="12.7" height="12.6" viewBox="0 0 12.7 12.6"><path fill="#fff" d="M0 0h2v10.700h10.700v1.900H0z"/><rect x="3" y="5" width="2.300" height="6" fill="#fff"/><rect x="6.200" y="1.500" width="2.500" height="9.500" fill="#fff"/><rect x="9.600" y="7" width="2.400" height="4" fill="#fff"/></svg></div>
  <div class="wt" style="left:674px;top:458.700px;width:100px;text-align:center;font-size:10.200px;line-height:14px;color:#222">报表</div>
  <div class="vd" style="left:753.5px"></div>
  <div class="vd" style="left:660px;background:#f0f1f3"></div>
  <div class="wt" style="left:766.7px;top:416.4px;font-size:11.400px;line-height:14px;color:#e0686c">125</div>
  <div class="wt" style="left:766.7px;top:432.5px;font-size:7.200px;line-height:10px;color:#999">报表总数</div>
  <div class="circ" style="left:918.7px;top:414.200px;background:linear-gradient(90deg,#58c568,#8cda4c)"><svg style="position:absolute;left:10.45px;top:10.7px" width="14.5" height="14" viewBox="0 0 14.5 14"><g transform="rotate(45 7.250 7) translate(.75 -1.500)" fill="#fff"><rect x="3.400" y="-1.400" width="1.700" height="4" rx=".8"/><rect x="7.900" y="-1.400" width="1.700" height="4" rx=".8"/><path d="M1.800 2.200h9.400v2.600c0 2.400-1.600 4.100-3.500 4.500h-2.400C3.400 8.900 1.800 7.200 1.800 4.800z"/><rect x="5.600" y="8.600" width="1.800" height="8.400" rx=".8"/></g></svg></div>
  <div class="wt" style="left:886px;top:458.700px;width:100px;text-align:center;font-size:10.200px;line-height:14px;color:#222">注册接口</div>
  <div class="vd" style="left:965.5px"></div>
  <div class="vd" style="left:872px;background:#f0f1f3"></div>
  <div class="wt" style="left:978.7px;top:416.4px;font-size:11.400px;line-height:14px;color:#45a845">312</div>
  <div class="wt" style="left:978.7px;top:432.5px;font-size:7.200px;line-height:10px;color:#999">接口总数</div>
  <div class="wt" style="left:978.7px;top:451.7px;font-size:11.400px;line-height:14px;color:#45a845">0</div>
  <div class="wt" style="left:978.7px;top:467px;font-size:7.200px;line-height:10px;color:#999">在用接口数</div>
  <div class="wt" style="left:237px;top:502.500px;font-size:8.500px;line-height:14px;color:#222">流程设置操作导航</div>
  <div class="btn">新手入门</div>
  <div class="hl" style="left:237px;top:523px;width:848px"></div>
  <div class="sc" style="left:414.3px;top:547.500px"><svg style="position:absolute;left:0;top:0" width="35.600" height="35.600" viewBox="0 0 35.600 35.600"><g fill="none" stroke="#4e86ba" stroke-width="1.150" stroke-linecap="round"><path d="M11.300 13.100A7 7 0 1 1 12 20.200"/><path d="M21.300 21.900l4.700 7.400"/><path d="M6 18.400h4l2.200-4.800 2.900 6 2.400-5 1.500 2.600 1.800-.4" stroke="#a5c9ec" stroke-width="1"/></g></svg></div>
  <div class="wt" style="left:392.1px;top:594.600px;width:80px;text-align:center;font-size:7.200px;line-height:10px;color:#222">分析流程</div>
  <div class="hl" style="left:455.8px;top:567px;width:67px;background:#eef1f5"></div>
  <div class="sc" style="left:528.4px;top:547.500px"><svg style="position:absolute;left:0;top:0" width="35.600" height="35.600" viewBox="0 0 35.600 35.600"><g fill="none" stroke="#4e86ba" stroke-width="1.100" stroke-linecap="round" stroke-linejoin="round"><path d="M20.700 9.700c-1-1.500-2.200-1.700-3.300-.8l-6.200 5.900-2.300-1.500v7.500h7.500l-1.400-1.800 2.800-4.200 6.600-1v1.900"/><path d="M12.600 25.100c1.400 1.700 3.300 1.700 4.700 0" stroke-width="1"/></g><circle cx="23.400" cy="22.700" r="4.900" fill="#a9cff2"/><path d="M23.400 19.800v5.800M20.500 22.700h5.800" stroke="#fff" stroke-width="1.400"/></svg></div>
  <div class="wt" style="left:506.20000000000005px;top:594.600px;width:80px;text-align:center;font-size:7.200px;line-height:10px;color:#222">新建流程</div>
  <div class="hl" style="left:569.9000000000001px;top:567px;width:67px;background:#eef1f5"></div>
  <div class="sc" style="left:643.0px;top:547.500px"><svg style="position:absolute;left:0;top:0" width="35.600" height="35.600" viewBox="0 0 35.600 35.600"><path d="M20.800 8.900v3.500c0 .6.400 1 1 1h3.700z" fill="#bfe0fa"/><g fill="none" stroke="#4e86ba" stroke-width="1.150" stroke-linecap="round" stroke-linejoin="round"><path d="M14.100 27.900h-2.400c-.9 0-1.400-.5-1.400-1.400V10.300c0-.9.500-1.400 1.400-1.400h9.100l4.700 4.400v3.300"/><path d="M20.800 9.100v3.300c0 .6.400 1 1 1h3.500" stroke-width=".9"/></g><path d="M25.500 19.400l-6 6.300" stroke="#a9cff2" stroke-width="1.500" stroke-linecap="round"/><circle cx="19" cy="25.900" r="1.900" fill="#9cc4ee"/></svg></div>
  <div class="wt" style="left:620.8px;top:594.600px;width:80px;text-align:center;font-size:7.200px;line-height:10px;color:#222">绘制表单</div>
  <div class="hl" style="left:684.5px;top:567px;width:67px;background:#eef1f5"></div>
  <div class="sc" style="left:757.9px;top:547.500px"><svg style="position:absolute;left:0;top:0" width="35.600" height="35.600" viewBox="0 0 35.600 35.600"><g fill="none" stroke="#4e86ba" stroke-width="1.100" stroke-linecap="round"><path d="M17.300 11v13"/><path d="M17.300 16l-7.300 4.300c-.4.300-.4.700-.4 1.300v1.900M17.300 16l7.400 4.300c.5.300.6.700.6 1.300v1.900"/></g><circle cx="17.300" cy="10.800" r="2.100" fill="#4a90d9"/><g fill="#d6e9fb" stroke="#9cc4ee" stroke-width=".9"><circle cx="9.600" cy="24.900" r="1.600"/><circle cx="17.300" cy="25.300" r="1.600"/><circle cx="25.300" cy="24.900" r="1.600"/></g></svg></div>
  <div class="wt" style="left:735.7px;top:594.600px;width:80px;text-align:center;font-size:7.200px;line-height:10px;color:#222">画流程图</div>
  <div class="hl" style="left:799.4000000000001px;top:567px;width:67px;background:#eef1f5"></div>
  <div class="sc" style="left:871.4px;top:547.500px"><svg style="position:absolute;left:0;top:0" width="35.600" height="35.600" viewBox="0 0 35.600 35.600"><g fill="none" stroke="#4a8ad4" stroke-width="1.200" stroke-linejoin="round" stroke-linecap="round"><path d="M12.600 9.600h10.400" stroke-width="1.500"/><path d="M14.800 9.800v5.200L8.400 26.100c-.3.500 0 .8.500.8h18c.5 0 .8-.3.500-.8L21.100 15V9.800"/><path d="M13.600 17.800h8.700" stroke-width="1"/></g><circle cx="21.500" cy="23.400" r="1.600" fill="none" stroke="#8fb8ea" stroke-width=".9"/><circle cx="15.900" cy="20.600" r=".6" fill="#8fb8ea"/></svg></div>
  <div class="wt" style="left:849.2px;top:594.600px;width:80px;text-align:center;font-size:7.200px;line-height:10px;color:#222">流转测试</div>
  <div class="wt" style="left:237px;top:637px;font-size:8.500px;line-height:14px;color:#222">前五名流程热度统计</div>
  <div class="hl" style="left:237px;top:654px;width:339px"></div>
  <div class="nb" style="left:242.500px;top:664.0px;background:#f2657a">1</div>
  <div class="wt" style="left:259.500px;top:664.9px;font-size:7.400px;line-height:10px;color:#222">出差审批（记录...</div>
  <div class="bar" style="left:332.500px;top:664.9px;width:189.5px;background:#4b9bdc"></div>
  <div class="nb" style="left:242.500px;top:692.8px;background:#f6a04a">2</div>
  <div class="wt" style="left:259.500px;top:693.6999999999999px;font-size:7.400px;line-height:10px;color:#222">保后检查审批</div>
  <div class="bar" style="left:332.500px;top:693.6999999999999px;width:144.0px;background:#69afe0"></div>
  <div class="nb" style="left:242.500px;top:721.6px;background:#d9b81d">3</div>
  <div class="wt" style="left:259.500px;top:722.5px;font-size:7.400px;line-height:10px;color:#222">差旅费报销</div>
  <div class="bar" style="left:332.500px;top:722.5px;width:105.5px;background:#86c1e6"></div>
  <div class="nb" style="left:242.500px;top:750.4px;background:#5bc85b">4</div>
  <div class="wt" style="left:259.500px;top:751.3px;font-size:7.400px;line-height:10px;color:#222">出差审批</div>
  <div class="bar" style="left:332.500px;top:751.3px;width:94.0px;background:#aad3ee"></div>
  <div class="nb" style="left:242.500px;top:779.2px;background:#5b8fd6">5</div>
  <div class="wt" style="left:259.500px;top:780.1px;font-size:7.400px;line-height:10px;color:#222">项目还款登记</div>
  <div class="bar" style="left:332.500px;top:780.1px;width:69.0px;background:#d4e6f5"></div>
  <div class="wt" style="left:661px;top:637px;font-size:8.500px;line-height:14px;color:#222">最近流程调整操作统计</div>
  <div class="hl" style="left:661px;top:654px;width:340px"></div>
  <div style="position:absolute;left:669.300px;top:669px;width:1px;height:116px;background:#dcdcdc"></div>
  <div style="position:absolute;left:666.800px;top:665.8px;width:6px;height:6px;border-radius:50%;background:#e9a326"></div>
  <div class="wt" style="left:678.700px;top:664.0px;font-size:8.100px;line-height:10px;color:#222">2025-04</div>
  <div class="bar" style="left:726.800px;top:665.0px;width:41.200000000000045px;background:#4b9bdc"></div>
  <div style="position:absolute;left:666.800px;top:694.8499999999999px;width:6px;height:6px;border-radius:50%;background:#c9c9c9"></div>
  <div class="wt" style="left:678.700px;top:693.05px;font-size:8.100px;line-height:10px;color:#222">2025-03</div>
  <div class="bar" style="left:726.800px;top:694.05px;width:90.40000000000009px;background:#69afe0"></div>
  <div style="position:absolute;left:666.800px;top:723.9px;width:6px;height:6px;border-radius:50%;background:#c9c9c9"></div>
  <div class="wt" style="left:678.700px;top:722.1px;font-size:8.100px;line-height:10px;color:#222">2025-02</div>
  <div class="bar" style="left:726.800px;top:723.1px;width:213.4000000000001px;background:#86c1e6"></div>
  <div style="position:absolute;left:666.800px;top:752.9499999999999px;width:6px;height:6px;border-radius:50%;background:#c9c9c9"></div>
  <div class="wt" style="left:678.700px;top:751.15px;font-size:8.100px;line-height:10px;color:#222">2025-01</div>
  <div class="bar" style="left:726.800px;top:752.15px;width:32.80000000000007px;background:#aad3ee"></div>
  <div style="position:absolute;left:666.800px;top:782.0px;width:6px;height:6px;border-radius:50%;background:#c9c9c9"></div>
  <div class="wt" style="left:678.700px;top:780.2px;font-size:8.100px;line-height:10px;color:#222">2024-12</div>
  <div class="bar" style="left:726.800px;top:781.2px;width:73.60000000000002px;background:#d4e6f5"></div>
</div><!--WE-->
</body>
</html>
